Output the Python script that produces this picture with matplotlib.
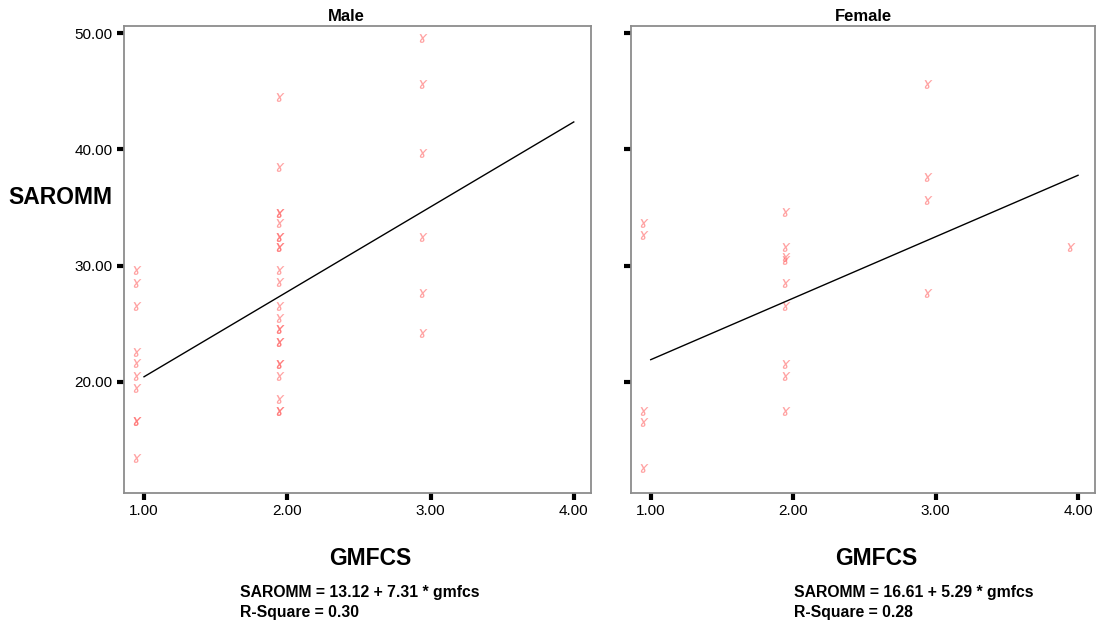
import matplotlib.pyplot as plt
import numpy as np

plt.rcParams['font.family'] = ['Liberation Sans', 'DejaVu Sans']

# GMFCS level and SAROMM values
male_gmfcs = [1] * 10 + [2] * 23 + [3] * 6
male_sar = [29.6, 28.5, 26.5, 22.6, 21.6, 20.5, 19.5, 16.6, 16.6, 13.4,
            44.5, 38.5, 34.5, 34.5, 33.7, 32.5, 32.5, 31.6, 31.6, 29.6, 28.6,
            26.5, 25.5, 24.5, 24.5, 23.4, 23.4, 21.5, 21.5, 20.5, 18.5, 17.5, 17.5,
            49.6, 45.6, 39.7, 32.5, 27.6, 24.2]

female_gmfcs = [1] * 5 + [2] * 9 + [3] * 4 + [4]
female_sar = [33.7, 32.6, 17.5, 16.5, 12.6,
              34.6, 31.6, 30.7, 30.5, 28.5, 26.5, 21.5, 20.5, 17.5,
              45.6, 37.6, 35.6, 27.6,
              31.6]

# regression coefficients (intercept, slope) and R-square
male_fit = (13.12, 7.31, 0.30)
female_fit = (16.61, 5.29, 0.28)

panels = [
    ("Male", male_gmfcs, male_sar, male_fit),
    ("Female", female_gmfcs, female_sar, female_fit),
]

fig = plt.figure(figsize=(10.97, 6.24), dpi=100)
lefts = [0.113, 0.575]
widths = [0.4257, 0.4233]
title_x = [0.477, 0.5]
axes = []
for i, (title, gx, sy, fit) in enumerate(panels):
    ax = fig.add_axes([lefts[i], 0.21, widths[i], 0.748])
    axes.append(ax)
    # SPSS draws the points a hair left of the level
    ax.scatter(np.array(gx) - 0.05, sy, marker=r'$ɤ$', s=40,
               color='#ff6464', alpha=0.6, linewidths=0)
    b0, b1, r2 = fit
    xs = np.array([1.0, 4.0])
    ax.plot(xs, b0 + b1 * xs, color='black', lw=1)

    ax.set_xlim(0.86, 4.12)
    ax.set_ylim(10.43, 50.6)
    ax.set_xticks([1, 2, 3, 4])
    ax.set_yticks([20, 30, 40, 50])
    ax.set_xticklabels(["%.2f" % v for v in [1, 2, 3, 4]])
    if i == 0:
        ax.set_yticklabels(["%.2f" % v for v in [20, 30, 40, 50]])
    else:
        ax.set_yticklabels([])
    ax.tick_params(direction='out', length=5, width=3, color='black',
                   labelsize=11, pad=3)
    for sp in ax.spines.values():
        sp.set_color('#8c8c8c')
        sp.set_linewidth(1.3)

    ax.text(title_x[i], 1.005, title, transform=ax.transAxes, fontsize=12,
            fontweight='bold', ha='center', va='bottom')
    ax.set_xlabel("GMFCS", fontsize=16.5, fontweight='bold')
    ax.xaxis.set_label_coords(0.528, -0.115)

    fig.text(lefts[i] + (0.106 if i == 0 else 0.149), 0.043,
             "SAROMM = %.2f + %.2f * gmfcs" % (b0, b1),
             fontsize=11.3, fontweight='bold', ha='left', va='baseline')
    fig.text(lefts[i] + (0.106 if i == 0 else 0.149), 0.011,
             "R-Square = %.2f" % r2,
             fontsize=11.3, fontweight='bold', ha='left', va='baseline')

axes[0].set_ylabel("SAROMM", fontsize=16.5, fontweight='bold', rotation=0,
                   ha='left', va='center')
axes[0].yaxis.set_label_coords(-0.248, 0.632)

fig.savefig("out.png", dpi=100)
